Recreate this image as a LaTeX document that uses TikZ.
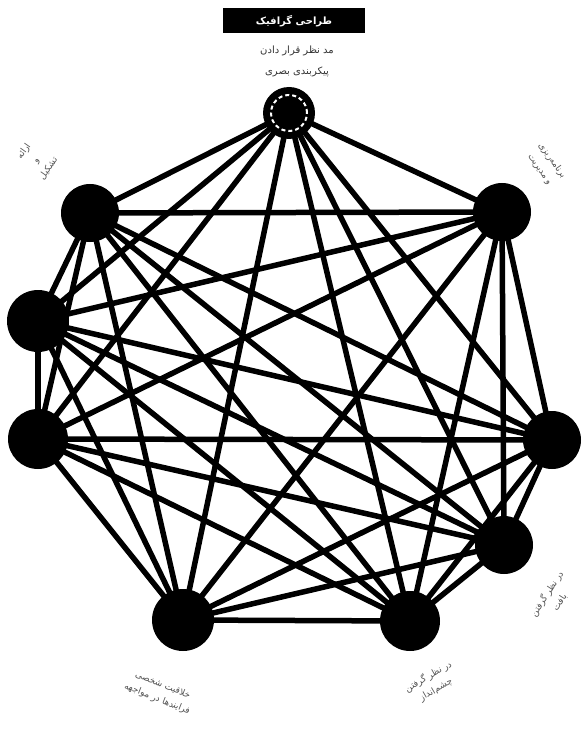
\documentclass[tikz,border=0pt]{standalone}
\usepackage{fontspec}
\newfontfamily\fa[Script=Arabic]{DejaVu Sans}
\TeXXeTstate=1
\begin{document}
\begin{tikzpicture}[x=1pt,y=-1pt,
  vert/.style={circle,fill=black,minimum size=56pt,inner sep=0pt},
  edgeline/.style={line width=5.5pt,black},
  lbl/.style={font=\fa\fontsize{9}{15}\selectfont, text=gray!65!black, align=center, inner sep=0pt},
  toplbl/.style={font=\fa\fontsize{10}{21}\selectfont, text=black!80, align=center, inner sep=0pt},
  titlebox/.style={fill=black,text=white,font=\fa\bfseries\fontsize{10}{12}\selectfont,minimum width=142pt,minimum height=25pt,inner sep=0pt}]
\useasboundingbox (0,0) rectangle (581,735);
\fill[white] (0,0) rectangle (581,735);
\coordinate (A) at (289,113);
\coordinate (B) at (502,212);
\coordinate (C) at (552,440);
\coordinate (D) at (504,545);
\coordinate (E) at (410,621);
\coordinate (F) at (183,620);
\coordinate (G) at (38,439);
\coordinate (H) at (38,321);
\coordinate (I) at (90,213);
\foreach \a/\rest in {A/{B,C,D,E,F,G,H,I},B/{C,D,E,F,G,H,I},C/{D,E,F,G,H,I},D/{E,F,G,H,I},E/{F,G,H,I},F/{G,H,I},G/{H,I},H/{I}}
  \foreach \b in \rest \draw[edgeline] (\a) -- (\b);
\node[vert,minimum size=52pt] (nA) at (A) {};
\draw[white,line width=2pt,dash pattern=on 4pt off 3pt] (nA.center) circle (18pt);
\node[vert,minimum size=58pt] (nB) at (B) {};
\node[vert,minimum size=58pt] (nC) at (C) {};
\node[vert,minimum size=58pt] (nD) at (D) {};
\node[vert,minimum size=60pt] (nE) at (E) {};
\node[vert,minimum size=62pt] (nF) at (F) {};
\node[vert,minimum size=60pt] (nG) at (G) {};
\node[vert,minimum size=62pt] (nH) at (H) {};
\node[vert,minimum size=58pt] (nI) at (I) {};
% labels
\node[titlebox] (title) at (294,21) {\beginR طراحی گرافیک\endR};
\node[toplbl] (topl) at (297,61) {\beginR مد نظر قرار دادن\endR\\\beginR پیکربندی بصری\endR};
\node[lbl,rotate=55] (lI) at (36,160) {\beginR ارائه\endR\\\beginR و\endR\\\beginR تشکیل\endR};
\node[lbl,rotate=-55] (lB) at (546,165) {\beginR برنامه‌ریزی\endR\\\beginR و مدیریت\endR};
\node[lbl,rotate=57] (lD) at (553,598) {\beginR در نظر گرفتن\endR\\\beginR بافت\endR};
\node[lbl,rotate=30] (lE) at (432,683) {\beginR در نظر گرفتن\endR\\\beginR چشم‌انداز\endR};
\node[lbl,rotate=-22] (lF) at (160,692) {\beginR خلاقیت شخصی\endR\\\beginR فرایندها در مواجهه\endR};
\end{tikzpicture}
\end{document}
